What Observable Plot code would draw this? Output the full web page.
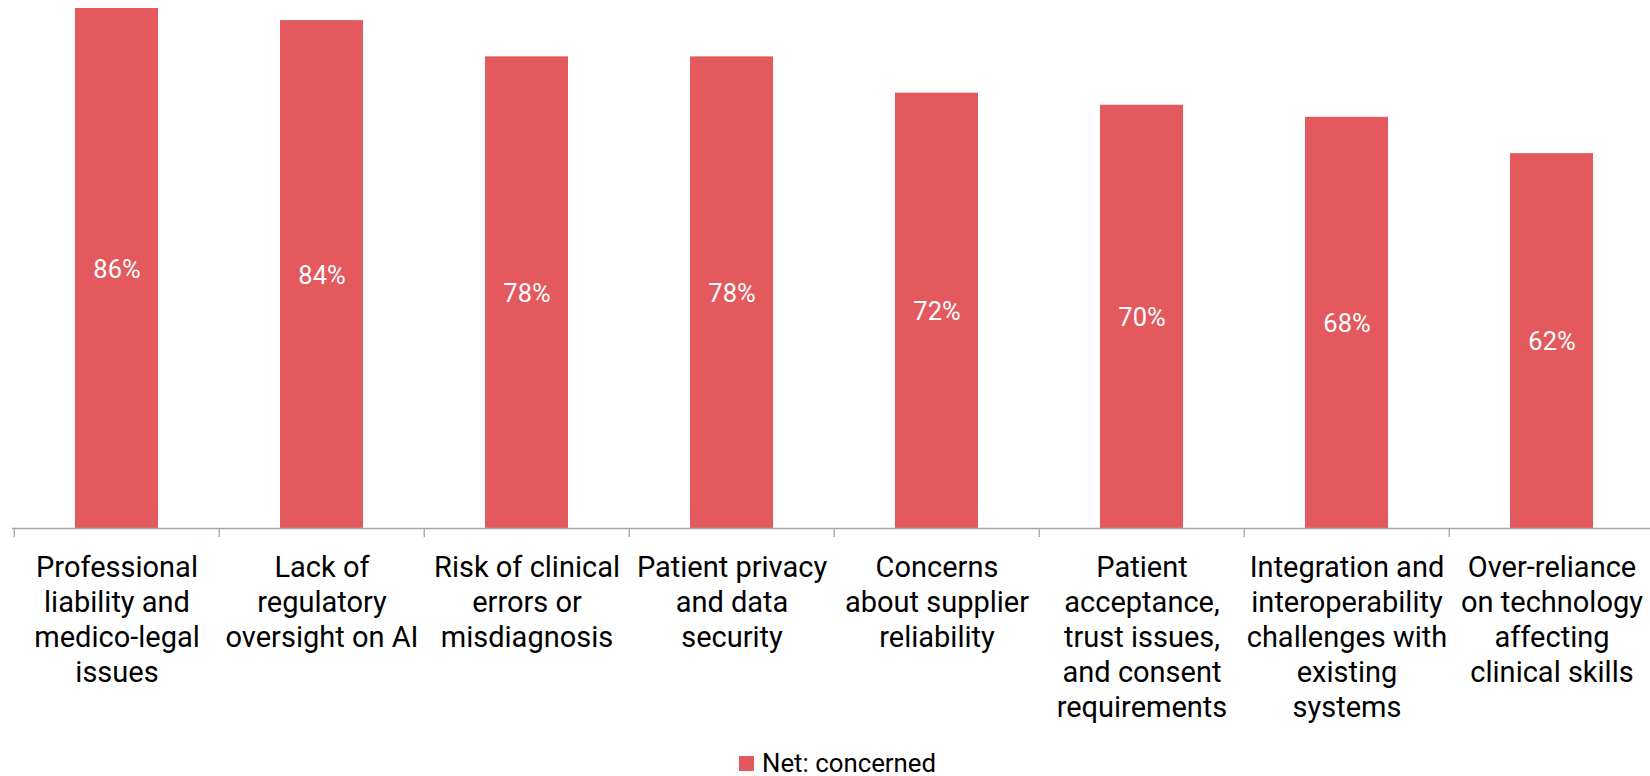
<!DOCTYPE html>
<html>
<head>
<meta charset="utf-8">
<script src="https://cdn.jsdelivr.net/npm/d3@7"></script>
<script src="https://cdn.jsdelivr.net/npm/@observablehq/plot@0.6"></script>
<style>
  html, body { margin: 0; padding: 0; background: #fff; overflow: hidden; width: 1650px; height: 776px; }
  #chart { position: absolute; left: 0; top: 0; width: 1656px; }
  #chart svg { max-width: none !important; }
  #legend { position: absolute; left: 739px; top: 750px; height: 26px; display: flex; align-items: center;
            font-family: Roboto, sans-serif; font-size: 25.8px; color: #000; }
  #legend .sw { width: 15px; height: 15px; background: #e3595e; margin-right: 8px; }
</style>
</head>
<body>
<div id="chart"></div>
<div id="legend"><div class="sw"></div><span>Net: concerned</span></div>
<script>
const categories = [
  "Professional\nliability and\nmedico-legal\nissues",
  "Lack of\nregulatory\noversight on AI",
  "Risk of clinical\nerrors or\nmisdiagnosis",
  "Patient privacy\nand data\nsecurity",
  "Concerns\nabout supplier\nreliability",
  "Patient\nacceptance,\ntrust issues,\nand consent\nrequirements",
  "Integration and\ninteroperability\nchallenges with\nexisting\nsystems",
  "Over-reliance\non technology\naffecting\nclinical skills"
];
const values = [86, 84, 78, 78, 72, 70, 68, 62];
const seriesName = "Net: concerned";

const data = categories.map((c, i) => ({category: c, value: values[i]}));
const W = 1656, H = 740, ML = 12, MR = 0, MT = 8, MB = 212;
const step = (W - ML - MR) / categories.length;
const red = "#e3595e";

const chart = Plot.plot({
  width: W,
  height: H,
  marginLeft: ML,
  marginRight: MR,
  marginTop: MT,
  marginBottom: MB,
  style: {fontFamily: "Roboto, sans-serif", background: "#fff", maxWidth: "none"},
  x: {type: "band", domain: categories, paddingInner: 0.596, paddingOuter: 0.298, axis: null},
  y: {domain: [0, 86], axis: null},
  marks: [
    Plot.barY(data, {x: "category", y: "value", fill: red}),
    Plot.ruleY([0], {stroke: "#a6a6a6", strokeWidth: 1.3}),
    Plot.ruleX(categories, {x: d => d, y1: 0, y2: 0, dx: -step / 2, insetBottom: -9, stroke: "#a6a6a6", strokeWidth: 1.3}),
    Plot.ruleX(categories.slice(-1), {x: d => d, y1: 0, y2: 0, dx: step / 2, insetBottom: -9, stroke: "#a6a6a6", strokeWidth: 1.3}),
    Plot.text(data, {x: "category", y: d => d.value / 2, text: d => d.value + "%", fill: "#fff", fontSize: 25.5, dy: 1}),
    Plot.axisX({tickSize: 0, tickPadding: 24, fontSize: 29, lineHeight: 1.207, fill: "#000", textAnchor: "middle", label: null})
  ]
});
document.getElementById("chart").appendChild(chart);
</script>
</body>
</html>
